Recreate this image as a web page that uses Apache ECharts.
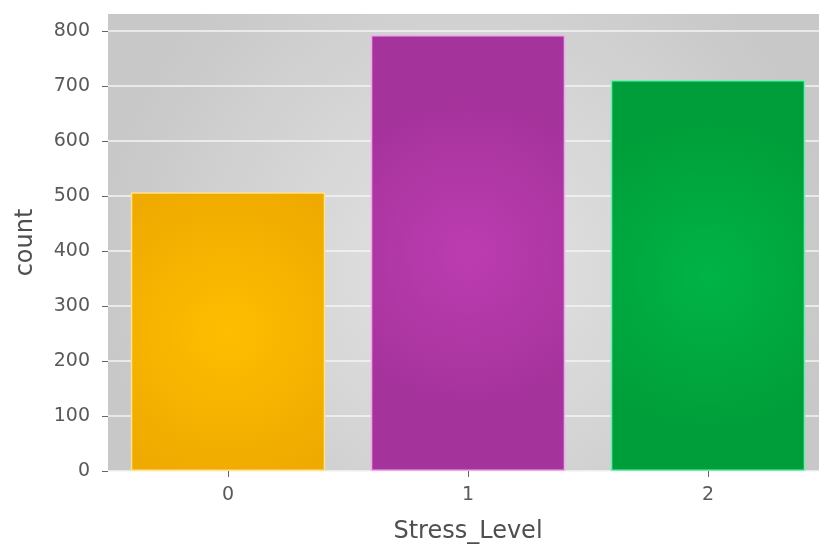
<!DOCTYPE html>
<html>
<head>
<meta charset="utf-8">
<script src="https://cdn.jsdelivr.net/npm/echarts@6/dist/echarts.min.js"></script>
<style>html,body{margin:0;padding:0;background:#fff}#c{width:819px;height:545px}</style>
</head>
<body>
<div id="c"></div>
<script>
const categories = ['0', '1', '2'];
const counts = [507, 793, 711];
const yTicks = [0, 100, 200, 300, 400, 500, 600, 700, 800];
const barColors = [
  ['#ffbd00', '#eeaa00'],
  ['#bc3cb0', '#a5339c'],
  ['#00b446', '#009e3a']
];
const edgeColors = ['#ffe28a', '#f2a8ec', '#6cf0b0'];

const chart = echarts.init(document.getElementById('c'));
const option = {
  animation: false,
  grid: {
    left: 108, top: 14, width: 720, bottom: 74,
    outerBoundsMode: 'none', containLabel: false,
    show: true, borderWidth: 0,
    backgroundColor: {
      type: 'radial', x: 0.5, y: 0.55, r: 0.8,
      colorStops: [{offset: 0, color: '#e4e4e4'}, {offset: 1, color: '#c8c8c8'}]
    }
  },
  xAxis: {
    type: 'category', data: categories,
    name: 'Stress_Level', nameLocation: 'middle', nameGap: 49,
    nameTextStyle: {color: '#4f4f4f', fontSize: 24, fontFamily: 'DejaVu Sans'},
    axisLine: {show: false},
    axisTick: {show: true, alignWithLabel: true, length: 6, lineStyle: {color: '#666'}},
    axisLabel: {color: '#595959', fontSize: 19, fontFamily: 'DejaVu Sans', margin: 15},
    splitLine: {show: false}
  },
  yAxis: {
    type: 'value', min: 0, max: 831,
    name: 'count', nameLocation: 'middle', nameGap: 70, nameRotate: 90,
    nameTextStyle: {color: '#4f4f4f', fontSize: 24, fontFamily: 'DejaVu Sans'},
    axisLine: {show: false},
    axisTick: {show: true, length: 6, lineStyle: {color: '#666'}, customValues: yTicks},
    axisLabel: {color: '#595959', fontSize: 19, fontFamily: 'DejaVu Sans', margin: 18, customValues: yTicks},
    splitLine: {show: true, lineStyle: {color: '#f4f4f4', width: 1.5}}
  },
  series: [{
    type: 'bar',
    barWidth: '81%',
    data: counts.map((v, i) => ({
      value: v,
      itemStyle: {
        color: {
          type: 'radial', x: 0.5, y: 0.5, r: 0.8,
          colorStops: [{offset: 0, color: barColors[i][0]}, {offset: 1, color: barColors[i][1]}]
        },
        borderColor: edgeColors[i], borderWidth: 1.5
      }
    }))
  }]
};
chart.setOption(option);
</script>
</body>
</html>
